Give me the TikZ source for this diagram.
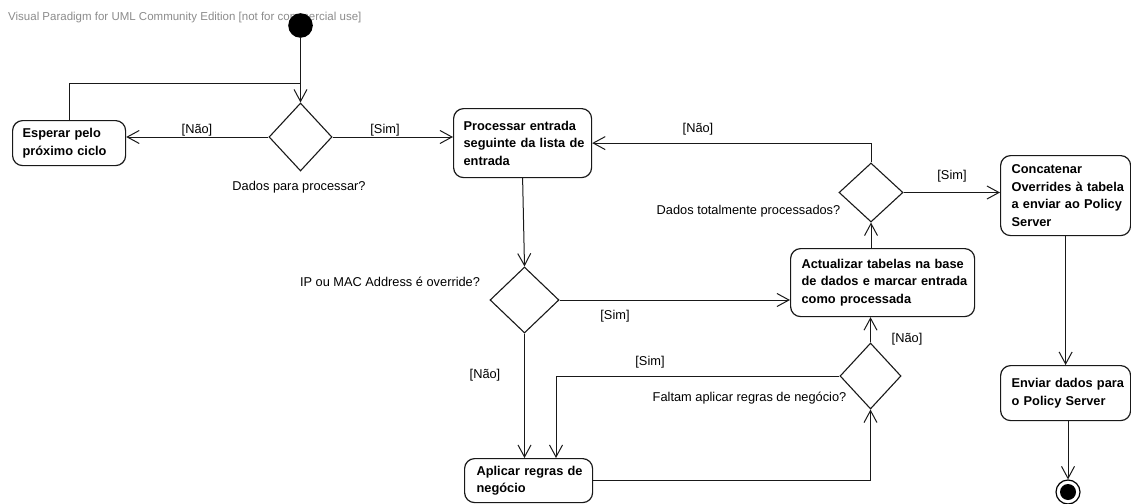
\documentclass[tikz,border=0pt]{standalone}
\usepackage{fontspec}
\setmainfont{Liberation Sans}
\usetikzlibrary{arrows.meta,shapes.geometric}

\tikzset{
  line/.style={line width=1pt, draw=black!90},
  arr/.style={line, -{Straight Barb[length=12pt,width=13pt,line width=1pt]}},
  act/.style={draw=black!90, line width=1.2pt, rounded corners=10pt, anchor=north west,
    align=left, inner ysep=0pt, font=\bfseries\fontsize{12.8}{17.5}\selectfont},
  decision/.style={diamond, draw=black!90, line width=1.1pt, inner sep=0pt},
  lbl/.style={font=\fontsize{12.8}{15}\selectfont, inner sep=0pt},
  wmark/.style={font=\fontsize{11.5}{13}\selectfont, text=black!45, inner sep=0pt, anchor=west}
}

\begin{document}
\begin{tikzpicture}[x=1pt,y=-1pt]
\useasboundingbox (0,0) rectangle (1131,503);
\fill[white] (0,0) rectangle (1131,503);

\node[wmark] (wm) at (8,18) {Visual Paradigm for UML Community Edition [not for commercial use]};

% start and end
\node[circle, fill=black, minimum size=24.6pt, inner sep=0pt] (init) at (300.5,25.5) {};
\node[circle, draw=black, line width=1.2pt, minimum size=24pt, inner sep=0pt] (fin) at (1068,492) {};
\fill[black] (fin.center) circle (8);

% actions
\node[act, minimum width=113pt, minimum height=45pt, text width=93pt, inner xsep=10pt]
  (esp) at (12,120) {Esperar pelo\\próximo ciclo};
\node[act, minimum width=138pt, minimum height=69pt, text width=118pt, inner xsep=10pt]
  (proc) at (453,108) {Processar entrada\\\mbox{seguinte da lista de}\\entrada};
\node[act, minimum width=184pt, minimum height=68pt, text width=162pt, inner xsep=11pt]
  (actu) at (790,248) {\mbox{Actualizar tabelas na base}\\\mbox{de dados e marcar entrada}\\como processada};
\node[act, minimum width=130pt, minimum height=80pt, text width=108pt, inner xsep=11pt]
  (conc) at (1000,155) {Concatenar\\\mbox{Overrides à tabela}\\\mbox{a enviar ao Policy}\\Server};
\node[act, minimum width=130pt, minimum height=55pt, text width=108pt, inner xsep=11pt]
  (env) at (1000,365) {\mbox{Enviar dados para}\\o Policy Server};
\node[act, minimum width=128pt, minimum height=44pt, text width=104pt, inner xsep=12pt]
  (apl) at (464,458) {\mbox{Aplicar regras de}\\negócio};

% decisions
\node[decision, minimum width=63pt, minimum height=68pt] (d1) at (300.5,137) {};
\node[decision, minimum width=69pt, minimum height=66pt] (d2) at (524.5,300) {};
\node[decision, minimum width=61pt, minimum height=66pt] (d3) at (870.5,376) {};
\node[decision, minimum width=64pt, minimum height=59pt] (d4) at (871,192.5) {};

% decision texts
\node[lbl] (q1) at (299,187) {Dados para processar?};
\node[lbl] (q2) at (390,282) {IP ou MAC Address é override?};
\node[lbl] (q3) at (749.5,398) {Faltam aplicar regras de negócio?};
\node[lbl] (q4) at (748.5,211) {Dados totalmente processados?};

% guards
\node[lbl] (g1) at (197,130) {[Não]};
\node[lbl] (g2) at (385,130) {[Sim]};
\node[lbl] (g3) at (698,129) {[Não]};
\node[lbl] (g4) at (952,176) {[Sim]};
\node[lbl] (g5) at (615,316) {[Sim]};
\node[lbl] (g6) at (485,375) {[Não]};
\node[lbl] (g7) at (650,362) {[Sim]};
\node[lbl] (g8) at (907,339) {[Não]};

% junction points
\coordinate (j1) at (300.5,83);
\coordinate (aplin) at (556,458);

% flows
\draw[arr] (init) -- (d1.north);
\draw[line] (esp.north) |- (j1);
\draw[arr] (d1.west) -- (d1.west -| esp.east);
\draw[arr] (d1.east) -- (d1.east -| proc.west);
\draw[arr] (proc.south) -- (d2.north);
\draw[arr] (d2.east) -- (d2.east -| actu.west);
\draw[arr] (d2.south) -- (d2.south |- apl.north);
\draw[arr] (apl.east) -| (d3.south);
\draw[arr] (d3.west) -| (aplin);
\draw[arr] (d3.north) -- (d3.north |- actu.south);
\draw[arr] (d4.south |- actu.north) -- (d4.south);
\draw[arr] (d4.north) |- (proc.east);
\draw[arr] (d4.east) -- (d4.east -| conc.west);
\draw[arr] (conc.south) -- (env.north);
\draw[arr] (fin.north |- env.south) -- (fin.north);
\end{tikzpicture}
\end{document}
